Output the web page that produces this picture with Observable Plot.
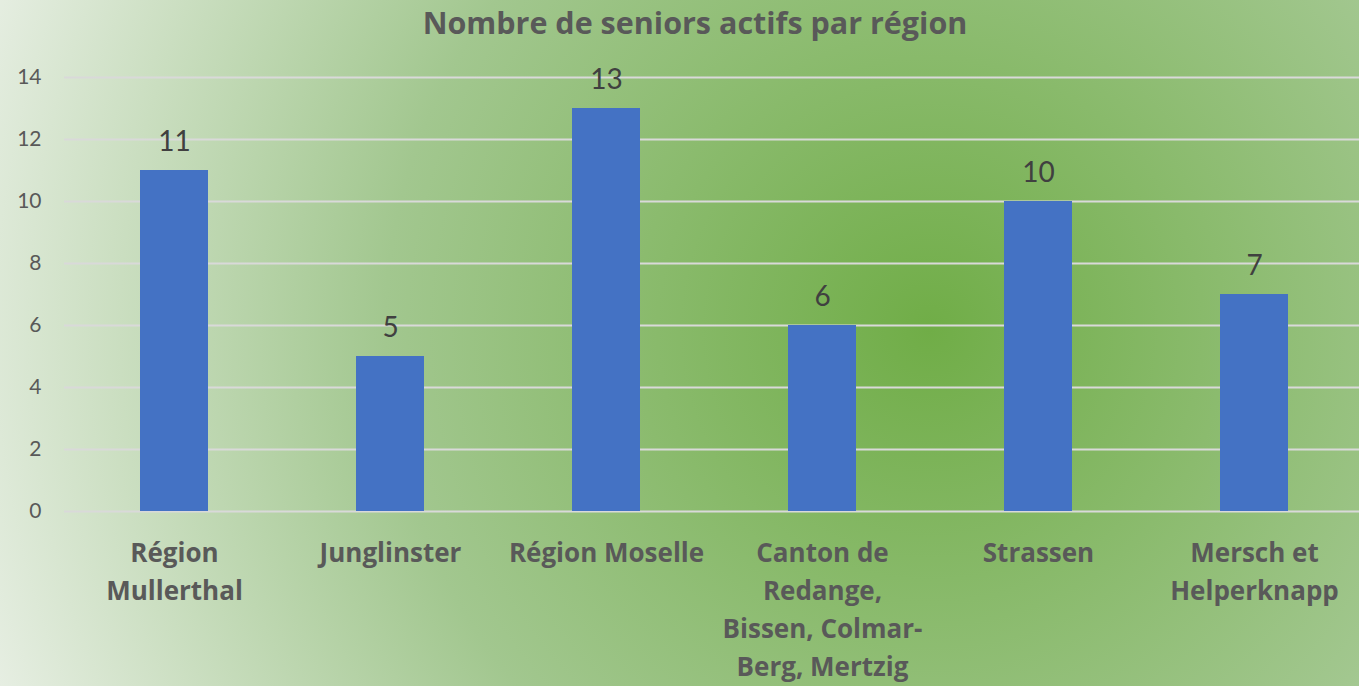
<!DOCTYPE html>
<html>
<head>
<meta charset="utf-8">
<script src="https://cdn.jsdelivr.net/npm/d3@7"></script>
<script src="https://cdn.jsdelivr.net/npm/@observablehq/plot@0.6"></script>
<style>
  html, body { margin: 0; padding: 0; }
  #chart {
    position: relative;
    width: 1359px;
    height: 686px;
    overflow: hidden;
    background: radial-gradient(circle at 930px 330px, #70ad47 0px, #a2c78f 545px, #e6eee2 995px);
    font-family: Lato, "Open Sans", sans-serif;
  }
  #title {
    position: absolute;
    left: 0; right: 0; top: 7px;
    text-align: center;
    font-family: "Open Sans", sans-serif;
    font-size: 30.5px;
    line-height: 30px;
    font-weight: bold;
    color: #595959;
    padding-left: 31px;
  }
  #chart svg { position: absolute; left: 0; top: 0; background: transparent; }
</style>
</head>
<body>
<div id="chart"><div id="title">Nombre de seniors actifs par région</div></div>
<script>
const categories = [
  "Région Mullerthal",
  "Junglinster",
  "Région Moselle",
  "Canton de Redange, Bissen, Colmar-Berg, Mertzig",
  "Strassen",
  "Mersch et Helperknapp"
];
const values = [11, 5, 13, 6, 10, 7];
const tickLabels = [
  "Région\nMullerthal",
  "Junglinster",
  "Région Moselle",
  "Canton de\nRedange,\nBissen, Colmar-\nBerg, Mertzig",
  "Strassen",
  "Mersch et\nHelperknapp"
];
const yTicks = [0, 2, 4, 6, 8, 10, 12, 14];

const data = categories.map((c, i) => ({category: c, value: values[i]}));
const labelOf = new Map(categories.map((c, i) => [c, tickLabels[i]]));

const chart = Plot.plot({
  width: 1359,
  height: 686,
  marginTop: 77,
  marginBottom: 175,
  marginLeft: 64,
  marginRight: 0,
  style: {background: "transparent", fontFamily: "Lato, 'Open Sans', sans-serif"},
  x: {domain: categories, range: [64, 1363], paddingInner: 0.686, paddingOuter: 0.343, label: null},
  y: {domain: [0, 14], label: null},
  marks: [
    Plot.ruleY(yTicks, {stroke: "#d9d9d9", strokeWidth: 2}),
    Plot.barY(data, {x: "category", y: "value", fill: "#4472c4"}),
    Plot.text(data, {x: "category", y: "value", text: d => String(d.value), dy: -20, lineAnchor: "bottom", fontSize: 28, fill: "#404040"}),
    Plot.axisY(yTicks, {tickSize: 0, tickPadding: 23, fontSize: 21, fill: "#595959", label: null}),
    Plot.axisX({tickSize: 0, tickPadding: 24, fontSize: 26, fontWeight: "bold", fontFamily: "'Open Sans', sans-serif", fill: "#595959", lineHeight: 1.46, label: null, tickFormat: d => labelOf.get(d)})
  ]
});
document.getElementById("chart").appendChild(chart);
</script>
</body>
</html>
